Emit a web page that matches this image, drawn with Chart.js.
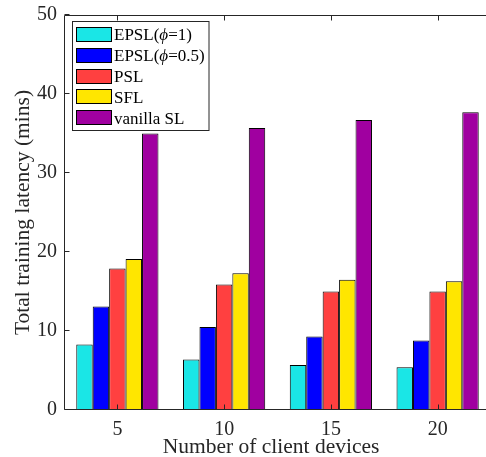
<!DOCTYPE html>
<html><head><meta charset="utf-8">
<script src="https://cdn.jsdelivr.net/npm/chart.js@4/dist/chart.umd.min.js"></script>
<style>html,body{margin:0;padding:0;background:#fff;overflow:hidden;}
#wrap{position:relative;width:494px;height:457px;}</style>
</head><body><div id="wrap"><canvas id="c"></canvas></div>
<script>
const categories = ['5', '10', '15', '20'];
const seriesNames = ['EPSL(ϕ=1)', 'EPSL(ϕ=0.5)', 'PSL', 'SFL', 'vanilla SL'];
const epsl1 = [8.3, 6.4, 5.7, 5.4];
const epsl05 = [13.1, 10.5, 9.3, 8.8];
const psl = [17.9, 15.9, 15.0, 15.0];
const sfl = [19.1, 17.3, 16.5, 16.3];
const vanillaSL = [35.0, 35.7, 36.7, 37.7];
const yTicks = [0, 10, 20, 30, 40, 50];
const xTitle = 'Number of client devices';
const yTitle = 'Total training latency (mins)';

const seriesValues = [epsl1, epsl05, psl, sfl, vanillaSL];
const seriesColors = ['#1AE6E6', '#0000FF', '#FF4040', '#FFE600', '#A000A0'];
const FONT = '"Liberation Serif", "Times New Roman", serif';
const AX = '#262626';

function drawRich(ctx, text, x, y, size) {
  let cx = x;
  for (const ch of text) {
    ctx.font = (ch === 'ϕ' ? 'italic ' : '') + size + 'px ' + FONT;
    ctx.fillText(ch, cx, y);
    cx += ctx.measureText(ch).width;
  }
}

const decorPlugin = {
  id: 'decor',
  afterDatasetsDraw(chart) {
    const {ctx, chartArea: a, scales: {x, y}} = chart;
    ctx.save();
    ctx.strokeStyle = AX;
    ctx.lineWidth = 1;
    const L = Math.round(a.left) + 0.5;
    const B = Math.round(a.bottom) - 0.5;
    const T = Math.round(a.top) + 0.5;
    const R = a.right + 10;
    ctx.beginPath();
    ctx.moveTo(L, B); ctx.lineTo(L, T); ctx.lineTo(R, T);
    ctx.moveTo(L, B); ctx.lineTo(R, B);
    yTicks.forEach(v => {
      const py = Math.round(y.getPixelForValue(v)) - 0.5;
      ctx.moveTo(L, py); ctx.lineTo(L + 5, py);
    });
    categories.forEach((c, i) => {
      const px = Math.round(x.getPixelForValue(i)) + 0.5;
      ctx.moveTo(px, B); ctx.lineTo(px, B - 5);
      ctx.moveTo(px, T); ctx.lineTo(px, T + 5);
    });
    ctx.stroke();

    ctx.fillStyle = AX;
    ctx.font = '21.5px ' + FONT;
    ctx.textAlign = 'center';
    ctx.textBaseline = 'alphabetic';
    ctx.fillText(xTitle, 271, 453);
    ctx.save();
    ctx.translate(28.5, (a.top + a.bottom) / 2);
    ctx.rotate(-Math.PI / 2);
    ctx.fillText(yTitle, 0, 0);
    ctx.restore();

    const lx = a.left + 8.5, ly = a.top + 6.5;
    ctx.fillStyle = '#fff';
    ctx.fillRect(lx, ly, 136.5, 109);
    ctx.strokeStyle = AX;
    ctx.strokeRect(lx, ly, 136.5, 109);
    ctx.textAlign = 'left';
    chart.data.datasets.forEach((ds, i) => {
      const cy = a.top + 19.2 + i * 20.9;
      ctx.fillStyle = ds.backgroundColor;
      ctx.fillRect(a.left + 12, Math.round(cy - 7.5), 36, 15);
      ctx.strokeStyle = '#000';
      ctx.strokeRect(a.left + 12 + 0.5, Math.round(cy - 7.5) + 0.5, 35, 14);
      ctx.fillStyle = '#000';
      drawRich(ctx, ds.label, a.left + 50, cy + 5.8, 17);
    });
    ctx.restore();
  }
};

new Chart(document.getElementById('c'), {
  type: 'bar',
  data: {
    labels: categories,
    datasets: seriesNames.map((n, i) => ({
      label: n,
      data: seriesValues[i],
      backgroundColor: seriesColors[i],
      borderColor: '#000',
      borderWidth: 1,
      categoryPercentage: 0.77,
      barPercentage: 1.0
    }))
  },
  options: {
    responsive: true,
    maintainAspectRatio: false,
    devicePixelRatio: 1,
    animation: false,
    layout: {padding: {top: 15, right: 3, left: 0, bottom: 0}},
    plugins: {legend: {display: false}, tooltip: {enabled: false}},
    scales: {
      x: {
        grid: {display: false, drawTicks: false},
        border: {display: false},
        ticks: {color: AX, font: {family: FONT, size: 20}, padding: 8, maxRotation: 0},
        afterFit(s) { s.height = 47; }
      },
      y: {
        min: 0, max: 50,
        grid: {display: false, drawTicks: false},
        border: {display: false},
        ticks: {stepSize: 10, color: AX, font: {family: FONT, size: 20, lineHeight: 0.8}, padding: 7},
        afterFit(s) { s.width = 64; }
      }
    }
  },
  plugins: [decorPlugin]
});
</script>
</body></html>
